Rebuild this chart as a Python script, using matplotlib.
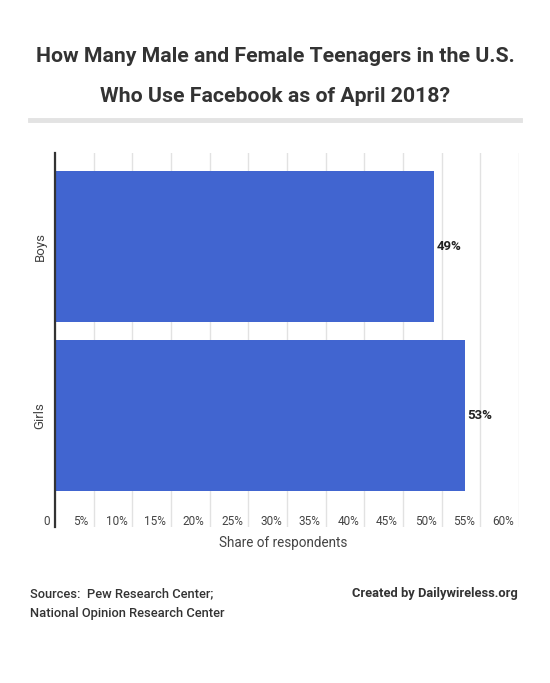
import matplotlib.pyplot as plt
import matplotlib.transforms as mtransforms
import numpy as np

# data
groups = ['Boys', 'Girls']
shares = [49, 53]
ticks = [0, 5, 10, 15, 20, 25, 30, 35, 40, 45, 50, 55, 60]
tick_labels = ['0'] + [f'{t}%' for t in ticks[1:]]

plt.rcParams['font.family'] = ['Roboto', 'DejaVu Sans']

W, H = 550, 683
fig = plt.figure(figsize=(W / 100, H / 100), dpi=100)

# axes box in pixel coords: left 55, right 519, top 153, bottom 527
left, right, top, bottom = 55, 519, 153, 527
ax = fig.add_axes([left / W, 1 - bottom / H, (right - left) / W, (bottom - top) / H])

y = np.arange(len(groups))
ax.barh(y, shares, height=0.893, color='#4165D0', zorder=3)

for yi, v in zip(y, shares):
    ax.text(v + 0.35, yi, f'{v}%', va='center', ha='left', fontsize=9.5,
            fontweight='bold', color='#222222', zorder=4)

ax.set_xlim(0, 60)
ax.set_ylim(1.66, -0.553)

ax.set_xticks(ticks)
ax.set_xticklabels(tick_labels)
ax.tick_params(axis='x', length=0, pad=-8.5, labelsize=8.5, labelcolor='#444444')
offset = mtransforms.ScaledTranslation(-5 / 100, 0, fig.dpi_scale_trans)
for lab in ax.get_xticklabels():
    lab.set_horizontalalignment('right')
    lab.set_transform(lab.get_transform() + offset)

ax.set_yticks(y)
ax.set_yticklabels(groups, rotation=90, va='center')
ax.tick_params(axis='y', length=0, pad=6, labelsize=9.5, labelcolor='#444444')

ax.grid(axis='x', color='#e2e2e2', linewidth=1, zorder=0)
for s in ['top', 'right', 'bottom']:
    ax.spines[s].set_visible(False)
ax.spines['left'].set_color('#333333')
ax.spines['left'].set_linewidth(1.6)
ax.spines['left'].set_zorder(5)

fig.text(283 / W, 1 - 543 / H, 'Share of respondents', ha='center', va='center',
         fontsize=9.75, color='#444444')

# title and separator
fig.text(0.5, 1 - 56 / H, 'How Many Male and Female Teenagers in the U.S.',
         ha='center', va='center', fontsize=15.3, fontweight='bold', color='#333333')
fig.text(0.5, 1 - 96 / H, 'Who Use Facebook as of April 2018?',
         ha='center', va='center', fontsize=15.3, fontweight='bold', color='#333333')
fig.add_artist(plt.Line2D([30 / W, 520 / W], [1 - 120 / H, 1 - 120 / H],
                          color='#e3e3e3', linewidth=3.5))

# footer
fig.text(30 / W, 1 - 594 / H, 'Sources:  Pew Research Center;', ha='left', va='center',
         fontsize=9.3, fontweight='medium', color='#333333')
fig.text(30 / W, 1 - 613 / H, 'National Opinion Research Center', ha='left', va='center',
         fontsize=9.3, fontweight='medium', color='#333333')
fig.text(518 / W, 1 - 594 / H, 'Created by Dailywireless.org', ha='right', va='center',
         fontsize=9.3, fontweight='bold', color='#333333')

fig.savefig('out.png', dpi=100, facecolor='white')
